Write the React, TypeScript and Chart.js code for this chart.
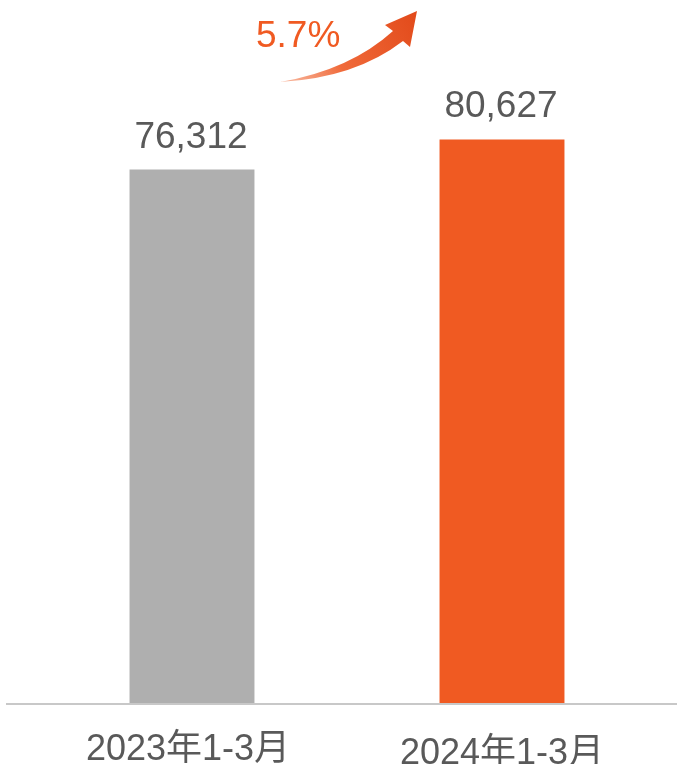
import React, { useEffect, useRef } from 'react';
import { Chart, registerables } from 'chart.js';

Chart.register(...registerables);

const periods = ['2023年1-3月', '2024年1-3月'];
const visitors = [76312, 80627];
const barColors = ['#AFAFAF', '#F05A22'];
const growthLabel = '5.7%';

const FONT = '"Liberation Sans", Arial, "Noto Sans CJK SC", sans-serif';

const decorPlugin = {
  id: 'decor',
  afterDatasetsDraw(chart: any) {
    const { ctx } = chart;
    const x = chart.scales.x;
    const y = chart.scales.y;
    const base = y.getPixelForValue(0);

    ctx.save();
    // axis line
    ctx.strokeStyle = '#C8C8C8';
    ctx.lineWidth = 2;
    ctx.beginPath();
    ctx.moveTo(6, base + 1);
    ctx.lineTo(chart.width, base + 1);
    ctx.stroke();

    // value labels
    const meta = chart.getDatasetMeta(0);
    ctx.fillStyle = '#595959';
    ctx.font = `37px ${FONT}`;
    ctx.textAlign = 'center';
    ctx.textBaseline = 'alphabetic';
    meta.data.forEach((bar: any, i: number) => {
      ctx.fillText(visitors[i].toLocaleString('en-US'), bar.x - 1, bar.y - 22);
    });

    // category labels
    ctx.font = `36px ${FONT}`;
    periods.forEach((p, i) => {
      ctx.fillText(p, x.getPixelForValue(i) - 4 + i * 4, base + 57 + i * 4);
    });

    // growth arrow
    const g = ctx.createLinearGradient(280, 82, 417, 12);
    g.addColorStop(0, 'rgba(244,140,100,0.6)');
    g.addColorStop(0.4, '#F06A3A');
    g.addColorStop(1, '#E24A1A');
    ctx.fillStyle = g;
    ctx.beginPath();
    ctx.moveTo(280, 82);
    ctx.quadraticCurveTo(350, 70, 393, 31);
    ctx.lineTo(385, 25);
    ctx.lineTo(417, 11);
    ctx.lineTo(410, 47);
    ctx.lineTo(403, 41);
    ctx.quadraticCurveTo(355, 78, 280, 82);
    ctx.closePath();
    ctx.fill();

    ctx.fillStyle = '#F05A22';
    ctx.font = `37px ${FONT}`;
    ctx.textAlign = 'left';
    ctx.fillText(growthLabel, 256, 47);
    ctx.restore();
  },
};

const App: React.FC = () => {
  const canvasRef = useRef<HTMLCanvasElement>(null);
  const chartRef = useRef<Chart | null>(null);

  useEffect(() => {
    document.body.style.margin = '0';
    if (!canvasRef.current) return;
    if (chartRef.current) chartRef.current.destroy();
    const ctx = canvasRef.current.getContext('2d');
    if (!ctx) return;

    chartRef.current = new Chart(ctx, {
      type: 'bar',
      data: {
        labels: periods,
        datasets: [
          {
            data: visitors,
            backgroundColor: barColors,
            borderWidth: 0,
            barPercentage: 0.403,
            categoryPercentage: 1,
          },
        ],
      },
      options: {
        responsive: true,
        maintainAspectRatio: false,
        animation: false,
        layout: { padding: { left: 37, right: 20, top: 4, bottom: 0 } },
        plugins: { legend: { display: false }, tooltip: { enabled: false } },
        scales: {
          x: {
            display: true,
            grid: { display: false },
            border: { display: false },
            ticks: { display: false },
            afterFit(scale: any) {
              scale.height = 61;
            },
          },
          y: {
            display: false,
            min: 0,
            max: 100000,
          },
        },
      },
      plugins: [decorPlugin],
    });

    return () => {
      if (chartRef.current) {
        chartRef.current.destroy();
        chartRef.current = null;
      }
    };
  }, []);

  return (
    <div style={{ width: 677, height: 764, position: 'relative', background: '#fff' }}>
      <canvas ref={canvasRef}></canvas>
    </div>
  );
};

export default App;
